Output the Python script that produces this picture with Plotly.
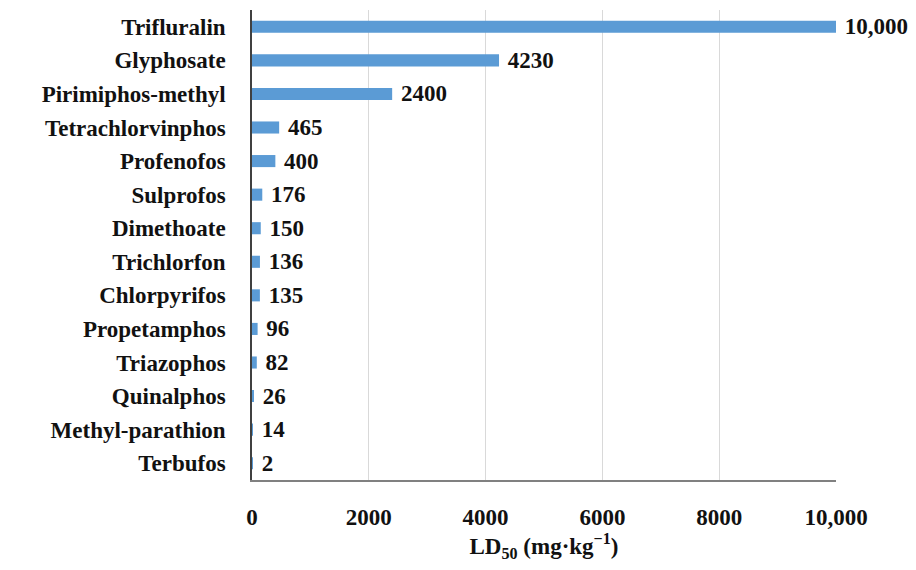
import plotly.graph_objects as go

categories = ["Trifluralin", "Glyphosate", "Pirimiphos-methyl", "Tetrachlorvinphos",
              "Profenofos", "Sulprofos", "Dimethoate", "Trichlorfon", "Chlorpyrifos",
              "Propetamphos", "Triazophos", "Quinalphos", "Methyl-parathion", "Terbufos"]
values = [10000, 4230, 2400, 465, 400, 176, 150, 136, 135, 96, 82, 26, 14, 2]
value_labels = ["10,000", "4230", "2400", "465", "400", "176", "150", "136", "135",
                "96", "82", "26", "14", "2"]
tick_vals = [0, 2000, 4000, 6000, 8000, 10000]
tick_text = ["0", "2000", "4000", "6000", "8000", "10,000"]

font_family = "Liberation Serif, serif"
fs = 23

fig = go.Figure(go.Bar(
    y=categories,
    x=values,
    orientation="h",
    marker=dict(color="#5B9BD5", line=dict(width=0)),
    width=0.36,
    text=["\u00a0" + t for t in value_labels],
    textposition="outside",
    constraintext="none",
    textfont=dict(family=font_family, size=fs, color="#111111", weight="bold"),
    cliponaxis=False,
))

fig.update_layout(
    width=916, height=570,
    margin=dict(l=244, r=88, t=2, b=98, autoexpand=False),
    paper_bgcolor="white",
    plot_bgcolor="white",
    showlegend=False,
    font=dict(family=font_family, size=fs, color="#111111", weight="bold"),
)

fig.update_xaxes(
    range=[0, 10000],
    tickvals=tick_vals,
    ticktext=tick_text,
    showgrid=True,
    gridcolor="#d9d9d9",
    gridwidth=1,
    zeroline=False,
    showline=True,
    linecolor="#808080",
    linewidth=1.5,
    ticks="",
    ticklabelstandoff=16,
    tickfont=dict(family=font_family, size=fs, color="#111111", weight="bold"),
    title=dict(text="LD<sub>50</sub> (mg·kg<sup>−1</sup>)",
               font=dict(family=font_family, size=fs, color="#111111", weight="bold"),
               standoff=7),
)

fig.update_yaxes(
    categoryorder="array",
    categoryarray=categories[::-1],
    showline=True,
    linecolor="#404040",
    linewidth=1.5,
    showgrid=False,
    ticks="",
    ticklabelstandoff=20,
    tickfont=dict(family=font_family, size=fs, color="#111111", weight="bold"),
)

fig.write_html("out.html")
